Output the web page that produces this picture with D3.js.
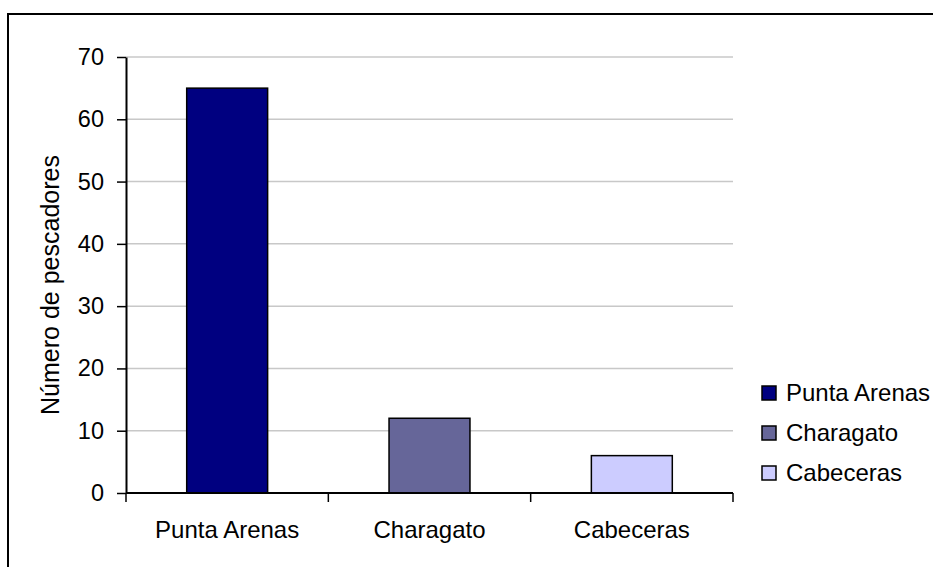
<!DOCTYPE html>
<html>
<head>
<meta charset="utf-8">
<script src="https://cdn.jsdelivr.net/npm/d3@7"></script>
<style>
  body { margin: 0; background: #fff; }
  svg text { font-family: "Liberation Sans", Arial, sans-serif; fill: #000; }
</style>
</head>
<body>
<div id="chart"></div>
<script>
// Chart data
var categories = ['Punta Arenas', 'Charagato', 'Cabeceras'];
var values     = [65, 12, 6];
var colors     = ['#000080', '#666699', '#ccccff'];
var yTicks     = [0, 10, 20, 30, 40, 50, 60, 70];
var yTitle     = 'Número de pescadores';

function draw_chart() {
	var W = 933, H = 567;
	var plot = { left: 126, right: 733, top: 57, bottom: 493 };

	var svg = d3.select('#chart').append('svg')
		.attr('width', W)
		.attr('height', H);

	// outer frame (runs off the right and bottom of the picture)
	svg.append('rect')
		.attr('x', 8).attr('y', 14)
		.attr('width', W + 20).attr('height', H + 20)
		.style('fill', 'none')
		.style('stroke', '#000')
		.style('stroke-width', 2);

	var x = d3.scaleBand()
		.domain(categories)
		.range([plot.left, plot.right])
		.paddingInner(0).paddingOuter(0);

	var y = d3.scaleLinear()
		.domain([0, 70])
		.range([plot.bottom, plot.top]);

	// gridlines
	svg.selectAll('.grid')
		.data(yTicks.filter(function(d) { return d > 0; }))
		.enter()
		.append('line')
			.attr('class', 'grid')
			.attr('x1', plot.left).attr('x2', plot.right)
			.attr('y1', function(d) { return y(d); })
			.attr('y2', function(d) { return y(d); })
			.style('stroke', '#c8c8c8')
			.style('stroke-width', 1.5);

	// bars
	var barW = x.bandwidth() * 0.4;
	svg.selectAll('.bar')
		.data(values)
		.enter()
		.append('rect')
			.attr('class', 'bar')
			.attr('x', function(d, i) { return x(categories[i]) + (x.bandwidth() - barW) / 2; })
			.attr('y', function(d) { return y(d); })
			.attr('width', barW)
			.attr('height', function(d) { return y(0) - y(d); })
			.style('fill', function(d, i) { return colors[i]; })
			.style('stroke', '#000')
			.style('stroke-width', 1.5);

	// y axis
	var yAxis = svg.append('g')
		.attr('transform', 'translate(' + plot.left + ',0)')
		.call(d3.axisLeft(y).tickValues(yTicks).tickSize(9).tickPadding(13).tickSizeOuter(0));
	yAxis.select('.domain').style('stroke-width', 2);
	yAxis.selectAll('.tick line').style('stroke-width', 1.5);
	yAxis.selectAll('text').style('font-size', '23.5px').style('font-family', '"Liberation Sans", Arial, sans-serif');

	// x axis: ticks on band boundaries
	var bounds = categories.map(function(c) { return x(c); }).concat([plot.right]);
	svg.append('line')
		.attr('x1', plot.left).attr('x2', plot.right)
		.attr('y1', plot.bottom).attr('y2', plot.bottom)
		.style('stroke', '#000').style('stroke-width', 2);
	svg.selectAll('.xtick')
		.data(bounds)
		.enter()
		.append('line')
			.attr('x1', function(d) { return d; }).attr('x2', function(d) { return d; })
			.attr('y1', plot.bottom).attr('y2', plot.bottom + 9)
			.style('stroke', '#000').style('stroke-width', 1.5);
	svg.selectAll('.xlabel')
		.data(categories)
		.enter()
		.append('text')
			.attr('x', function(d) { return x(d) + x.bandwidth() / 2; })
			.attr('y', 538)
			.attr('text-anchor', 'middle')
			.style('font-size', '24px')
			.text(function(d) { return d; });

	// y title
	svg.append('text')
		.attr('transform', 'translate(59,' + ((plot.top + plot.bottom) / 2 + 10) + ') rotate(-90)')
		.attr('text-anchor', 'middle')
		.style('font-size', '25px')
		.text(yTitle);

	// legend
	var legend = svg.selectAll('.legend')
		.data(categories)
		.enter()
		.append('g')
			.attr('transform', function(d, i) { return 'translate(762,' + (386 + i * 40) + ')'; });
	legend.append('rect')
		.attr('width', 14).attr('height', 14)
		.style('fill', function(d, i) { return colors[i]; })
		.style('stroke', '#000')
		.style('stroke-width', 1.5);
	legend.append('text')
		.attr('x', 24).attr('y', 15)
		.style('font-size', '24px')
		.text(function(d) { return d; });
}

draw_chart();
</script>
</body>
</html>
